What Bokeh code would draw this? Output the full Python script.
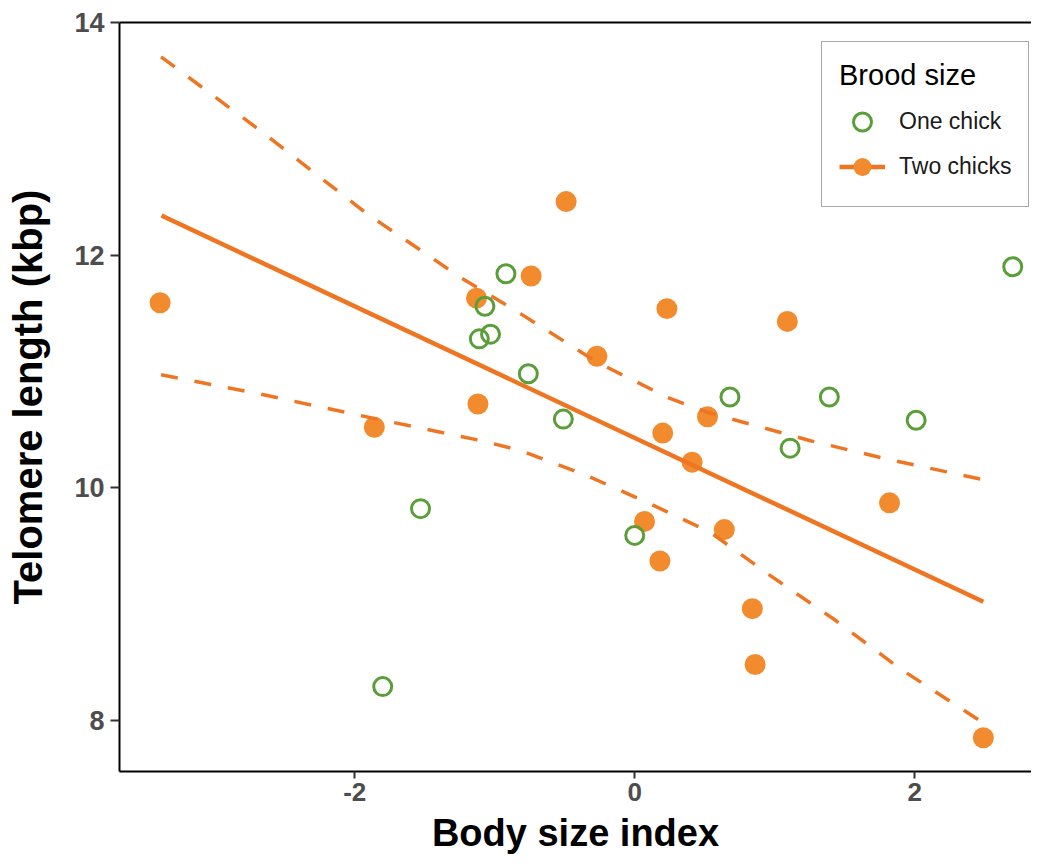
from bokeh.plotting import figure
from bokeh.models import Range1d, LinearAxis, FixedTicker, Legend, LegendItem
from bokeh.embed import file_html
from bokeh.resources import INLINE

# ---- data ----
two_x = [-3.39, -1.86, -1.13, -1.12, -0.74, -0.49, -0.27, 0.23, 1.09, 0.52,
         0.20, 0.41, 0.07, 0.18, 0.64, 0.84, 0.86, 1.82, 2.49]
two_y = [11.59, 10.52, 11.63, 10.72, 11.82, 12.46, 11.13, 11.54, 11.43, 10.61,
         10.47, 10.22, 9.71, 9.37, 9.64, 8.96, 8.48, 9.87, 7.85]

one_x = [-0.92, -1.07, -1.11, -1.03, -0.76, -0.51, -1.53, -1.80, 0.00, 0.68,
         1.11, 1.39, 2.01, 2.70]
one_y = [11.84, 11.56, 11.28, 11.32, 10.98, 10.59, 9.82, 8.29, 9.59, 10.78,
         10.34, 10.78, 10.58, 11.90]

fit_x = [-3.38, 2.49]
fit_y = [12.34, 9.02]

ci_up_x = [-3.383, -2.674, -1.911, -1.245, -0.816, -0.269, 0.231, 0.517, 1.255, 1.803, 2.489]
ci_up_y = [13.705, 13.07, 12.354, 11.809, 11.497, 11.079, 10.778, 10.649, 10.404, 10.246, 10.069]

ci_lo_x = [-3.383, -2.626, -1.852, -1.102, -0.816, -0.34, 0.089, 0.541, 0.969, 1.421, 1.898, 2.481]
ci_lo_y = [10.971, 10.793, 10.593, 10.406, 10.32, 10.103, 9.874, 9.616, 9.244, 8.871, 8.442, 7.984]

x_ticks = [-2, 0, 2]
x_tick_labels = ["-2", "0", "2"]
y_ticks = [8, 10, 12, 14]

ORANGE_PT = "#F28A2E"
ORANGE_LN = "#EE7623"
GREEN = "#5A9E3A"
FONT = "Liberation Sans"

p = figure(width=1031, height=856, output_backend="svg", toolbar_location=None,
           x_range=Range1d(-3.68, 2.834), y_range=Range1d(7.56, 14.0),
           min_border_left=119, min_border_right=0, min_border_top=22, min_border_bottom=85,
           background_fill_color="white", border_fill_color="white")
p.outline_line_color = None
p.grid.visible = False

# points
o_r = p.scatter(two_x, two_y, size=21, fill_color=ORANGE_PT, line_color=ORANGE_PT, line_width=0)
g_r = p.scatter(one_x, one_y, size=18, fill_color=None, line_color=GREEN, line_width=3)

# fitted line and confidence bands
line_r = p.line(fit_x, fit_y, line_color=ORANGE_LN, line_width=4.5)
p.line(ci_up_x, ci_up_y, line_color=ORANGE_LN, line_width=3.5, line_dash="17 17")
p.line(ci_lo_x, ci_lo_y, line_color=ORANGE_LN, line_width=3.5, line_dash="17 17")

# axes
for ax in (p.xaxis[0], p.yaxis[0]):
    ax.axis_line_color = "black"
    ax.axis_line_width = 2
    ax.major_tick_line_color = "#333333"
    ax.major_tick_line_width = 2
    ax.major_tick_in = 0
    ax.minor_tick_in = 0
    ax.minor_tick_out = 0
    ax.major_label_text_font = FONT
    ax.major_label_text_font_style = "bold"
    ax.major_label_text_color = "#4D4D4D"
    ax.axis_label_text_font = FONT
    ax.axis_label_text_font_style = "bold"
    ax.axis_label_text_color = "black"

p.xaxis[0].ticker = FixedTicker(ticks=x_ticks)
p.xaxis[0].major_label_overrides = dict(zip(x_ticks, x_tick_labels))
p.yaxis[0].ticker = FixedTicker(ticks=y_ticks)
p.xaxis[0].major_tick_out = 7
p.yaxis[0].major_tick_out = 9
p.xaxis[0].major_label_standoff = 4
p.yaxis[0].major_label_standoff = 6
p.xaxis[0].major_label_text_font_size = "26px"
p.yaxis[0].major_label_text_font_size = "27px"
p.xaxis[0].axis_label = "Body size index"
p.yaxis[0].axis_label = "Telomere length (kbp)"
p.xaxis[0].axis_label_text_font_size = "38px"
p.yaxis[0].axis_label_text_font_size = "40px"
p.xaxis[0].axis_label_standoff = 8
p.yaxis[0].axis_label_standoff = 21

# top border line
top = LinearAxis(ticker=FixedTicker(ticks=[]), axis_line_color="black", axis_line_width=2,
                 major_tick_out=0, major_tick_in=0, minor_tick_out=0, minor_tick_in=0,
                 major_label_text_font_size="0px")
p.add_layout(top, "above")

# legend
legend = Legend(items=[LegendItem(label="One chick", renderers=[g_r]),
                       LegendItem(label="Two chicks", renderers=[line_r, o_r])],
                title="Brood size", location=(702, 564))
legend.title_text_font = FONT
legend.title_text_font_size = "29px"
legend.title_text_font_style = "normal"
legend.title_text_color = "black"
legend.title_standoff = 7
legend.label_text_font = FONT
legend.label_text_font_size = "23px"
legend.label_text_color = "#1A1A1A"
legend.padding = 17
legend.spacing = 0
legend.glyph_width = 46
legend.glyph_height = 45
legend.label_height = 45
legend.label_standoff = 14
legend.border_line_color = "#555555"
legend.border_line_width = 1.5
legend.background_fill_color = "white"
legend.background_fill_alpha = 1.0
legend.margin = 0
p.add_layout(legend)

open("out.html", "w").write(file_html(p, INLINE))
